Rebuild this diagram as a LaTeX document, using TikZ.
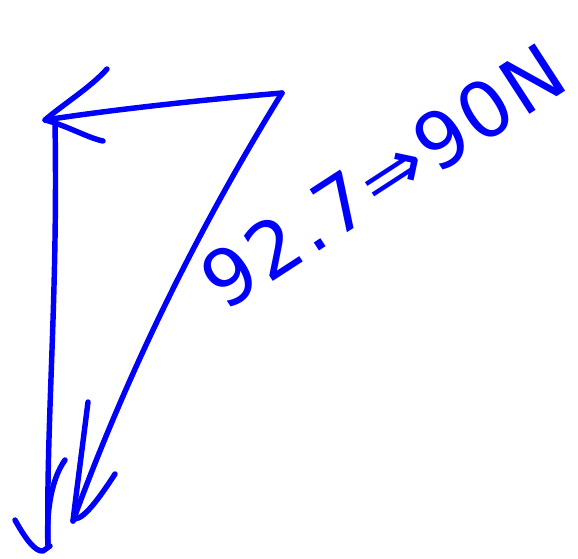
\documentclass[tikz,border=0pt]{standalone}
\usepackage{fontspec}
\newfontfamily\sketchfont[LetterSpace=4]{DejaVu Sans}
\usetikzlibrary{calc}
\definecolor{pen}{HTML}{0000FF}
\tikzset{
  stroke/.style={draw=pen,line width=3.1pt,line cap=round,line join=round},
  note/.style={text=pen,font=\sketchfont\fontsize{44}{48}\selectfont,
               rotate=33,inner sep=0pt}
}

\begin{document}
\begin{tikzpicture}[x=0.02cm,y=-0.02cm]
  \useasboundingbox (0,0) rectangle (578,558);
  % corners of the triangle
  \coordinate (tl) at (45,120);
  \coordinate (tr) at (282,93);
  \coordinate (vtop) at (55,123);
  \coordinate (vtip) at (43,551);
  \coordinate (dtip) at (73,521);
  % barb ends
  \coordinate (tlup) at (107,69);
  \coordinate (tllow) at (103,141);
  \coordinate (vleft) at (15,520);
  \coordinate (vright) at (65,460);
  \coordinate (dleft) at (88,402);
  \coordinate (dright) at (115,474);
  % top arrow, pointing left
  \draw[stroke] (tr) .. controls (200,100) and (110,110) .. (tl);
  \draw[stroke] (tlup) .. controls (90,88) and (62,105) .. (tl)
                       .. controls (68,126) and (88,138) .. (tllow);
  % vertical arrow, pointing down
  \draw[stroke] (vtop) .. controls (58,300) and (46,420) .. (48,545);
  \draw[stroke] (vleft) .. controls (25,538) and (35,552) .. (vtip) -- (50,546);
  \draw[stroke] (vright) .. controls (52,478) and (46,510) .. (48,545);
  % diagonal arrow, pointing down-left
  \draw[stroke] (tr) .. controls (198,229) and (128,371) .. (dtip);
  \draw[stroke] (dleft) .. controls (82,450) and (76,495) .. (dtip);
  \draw[stroke] (dright) .. controls (100,497) and (85,518) .. (75,519);
  % magnitude
  \node[note] (mag) at (383,176) {92.7⇒90N};
\end{tikzpicture}
\end{document}
